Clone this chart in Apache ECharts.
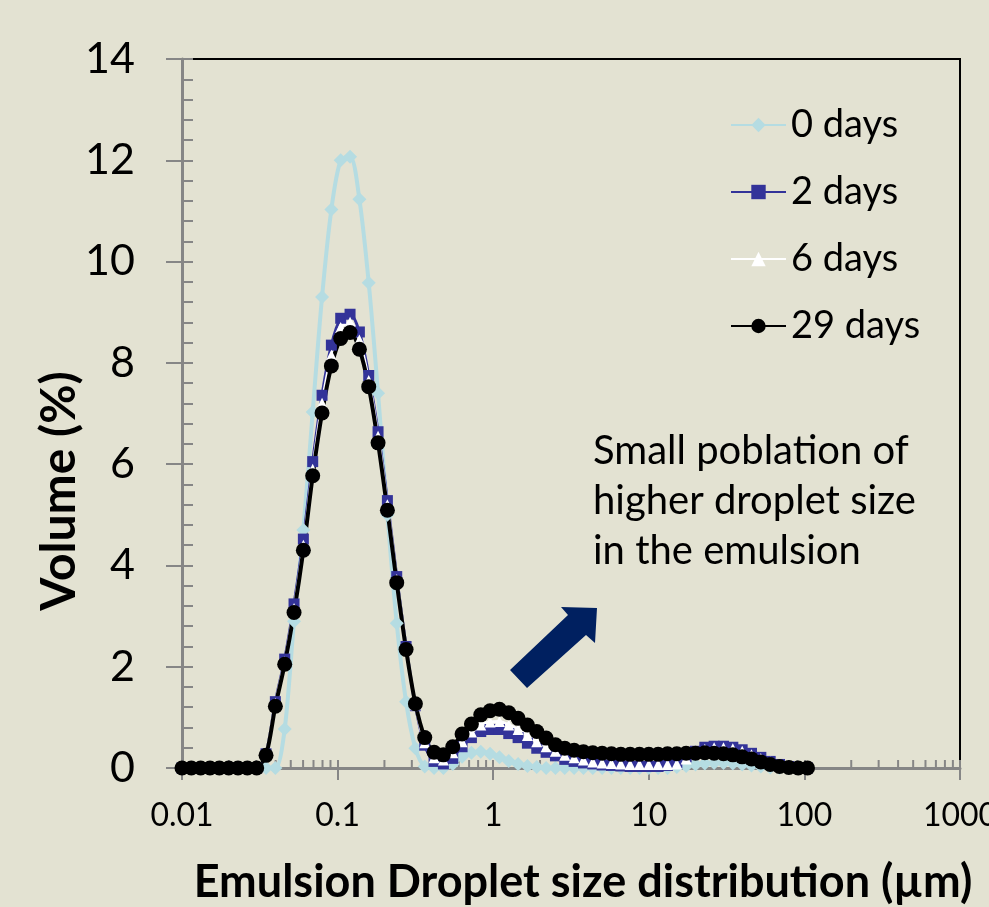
<!DOCTYPE html>
<html>
<head>
<meta charset="utf-8">
<script src="https://cdn.jsdelivr.net/npm/echarts@6/dist/echarts.min.js"></script>
<style>
html, body { margin: 0; padding: 0; background: #e3e2d2; }
#dsd { width: 989px; height: 907px; }
</style>
</head>
<body>
<div id="dsd"></div>
<script>
// droplet size classes (µm)
var sizes = [0.01, 0.011482, 0.013183, 0.015136, 0.017378, 0.019953, 0.022909, 0.026303, 0.0302, 0.034674,
    0.039811, 0.045709, 0.052481, 0.060256, 0.069183, 0.079433, 0.091201, 0.10471, 0.12023, 0.13804,
    0.15849, 0.18197, 0.20893, 0.23988, 0.27542, 0.31623, 0.36308, 0.41687, 0.47863, 0.54954,
    0.63096, 0.72444, 0.83176, 0.95499, 1.0965, 1.2589, 1.4454, 1.6596, 1.9055, 2.1878,
    2.5119, 2.884, 3.3113, 3.8019, 4.3652, 5.0119, 5.7544, 6.6069, 7.5858, 8.7096,
    10, 11.482, 13.183, 15.136, 17.378, 19.953, 22.909, 26.303, 30.2, 34.674,
    39.811, 45.709, 52.481, 60.256, 69.183, 79.433, 91.201, 104.71];

var day0 = [0, 0, 0, 0, 0, 0, 0, 0, 0, 0,
    0, 0.77, 2.9, 4.7, 7.03, 9.3, 11.03, 12.0, 12.07, 11.23,
    9.58, 7.4, 5.0, 2.86, 1.31, 0.39, 0.03, 0, 0, 0.08,
    0.22, 0.3, 0.32, 0.28, 0.21, 0.14, 0.08, 0.04, 0.02, 0,
    0, 0, 0, 0, 0, 0, 0, 0, 0, 0,
    0, 0, 0, 0.02, 0.04, 0.07, 0.09, 0.1, 0.1, 0.09,
    0.07, 0.05, 0.03, 0.01, 0, 0, 0, 0];

var day2 = [0, 0, 0, 0, 0, 0, 0, 0, 0, 0.28,
    1.31, 2.15, 3.24, 4.52, 6.05, 7.36, 8.35, 8.88, 8.96, 8.61,
    7.75, 6.64, 5.28, 3.78, 2.4, 1.23, 0.45, 0.13, 0.08, 0.19,
    0.42, 0.6, 0.72, 0.76, 0.76, 0.68, 0.6, 0.49, 0.39, 0.31,
    0.24, 0.17, 0.13, 0.1, 0.08, 0.06, 0.05, 0.04, 0.03, 0.03,
    0.03, 0.03, 0.05, 0.1, 0.22, 0.33, 0.41, 0.43, 0.43, 0.41,
    0.36, 0.29, 0.21, 0.13, 0.07, 0.03, 0.01, 0];

var day6 = [0, 0, 0, 0, 0, 0, 0, 0, 0, 0.27,
    1.28, 2.1, 3.15, 4.4, 5.9, 7.2, 8.15, 8.7, 8.8, 8.45,
    7.65, 6.55, 5.2, 3.72, 2.37, 1.25, 0.5, 0.2, 0.16, 0.3,
    0.52, 0.71, 0.85, 0.91, 0.92, 0.85, 0.76, 0.64, 0.52, 0.42,
    0.33, 0.25, 0.2, 0.16, 0.12, 0.1, 0.09, 0.08, 0.07, 0.07,
    0.07, 0.07, 0.07, 0.08, 0.18, 0.3, 0.37, 0.4, 0.4, 0.38,
    0.33, 0.26, 0.19, 0.12, 0.06, 0.03, 0.01, 0];

var day29 = [0, 0, 0, 0, 0, 0, 0, 0, 0, 0.25,
    1.22, 2.05, 3.07, 4.3, 5.77, 7.01, 7.94, 8.48, 8.6, 8.27,
    7.53, 6.42, 5.09, 3.66, 2.34, 1.27, 0.6, 0.31, 0.26, 0.42,
    0.67, 0.87, 1.05, 1.13, 1.16, 1.09, 0.98, 0.85, 0.72, 0.59,
    0.46, 0.39, 0.35, 0.32, 0.3, 0.29, 0.28, 0.27, 0.27, 0.27,
    0.27, 0.27, 0.28, 0.28, 0.29, 0.29, 0.3, 0.29, 0.28, 0.26,
    0.22, 0.18, 0.12, 0.07, 0.03, 0.01, 0, 0];

var seriesNames = ['0 days', '2 days', '6 days', '29 days'];
var xTickLabels = ['0.01', '0.1', '1', '10', '100', '1000'];
var yTicks = [0, 2, 4, 6, 8, 10, 12, 14];
var decades = [0.01, 0.1, 1, 10, 100];
var minorMultiples = [2, 3, 4, 5, 6, 7, 8, 9];

function pairs(ys) {
    return ys.map(function (y, i) { return [sizes[i], y]; });
}

var minorTicks = [];
decades.forEach(function (d) {
    minorMultiples.forEach(function (m) { minorTicks.push([m * d, 0]); });
});

var axisGrey = '#868686';
var font = 'Lato';

var dsd = {
    backgroundColor: '#e3e2d2',
    animation: false,
    grid: {
        left: 182,
        right: 29,
        top: 59,
        bottom: 139,
        outerBoundsMode: 'none',
        containLabel: false,
        show: true,
        borderColor: '#000',
        borderWidth: 2
    },
    legend: {
        data: seriesNames,
        orient: 'vertical',
        left: 725,
        top: 101,
        itemWidth: 55,
        itemHeight: 18,
        itemGap: 29,
        textStyle: { fontFamily: font, fontSize: 38, color: '#000' }
    },
    xAxis: [
        {
            type: 'log',
            logBase: 10,
            min: 0.01,
            max: 1000,
            position: 'bottom',
            axisLine: { onZero: false, lineStyle: { color: axisGrey, width: 3 } },
            axisTick: { inside: false, length: 12, lineStyle: { color: axisGrey, width: 2 } },
            axisLabel: {
                fontFamily: font, fontSize: 32, color: '#000', margin: 32,
                showMinLabel: true, showMaxLabel: true,
                formatter: function (v, i) { return xTickLabels[i]; }
            },
            splitLine: { show: false }
        },
        {
            type: 'log',
            logBase: 10,
            min: 0.01,
            max: 1000,
            position: 'bottom',
            axisLine: { show: false, onZero: false },
            axisTick: { inside: true, length: 8, lineStyle: { color: axisGrey, width: 2 } },
            axisLabel: { show: false },
            splitLine: { show: false }
        }
    ],
    yAxis: [
        {
            type: 'value',
            min: 0,
            max: 14,
            interval: 2,
            position: 'left',
            axisLine: { show: true, lineStyle: { color: axisGrey, width: 3 } },
            axisTick: { show: true, inside: false, length: 16, lineStyle: { color: axisGrey, width: 2 } },
            axisLabel: {
                fontFamily: font, fontSize: 43, color: '#000', margin: 47,
                formatter: function (v) { return yTicks.indexOf(v) >= 0 ? String(v) : ''; }
            },
            splitLine: { show: false }
        },
        {
            type: 'value',
            min: 0,
            max: 14,
            interval: 2,
            position: 'left',
            axisLine: { show: false },
            axisTick: { show: true, inside: true, length: 11, lineStyle: { color: axisGrey, width: 2 } },
            minorTick: { show: true, splitNumber: 5, length: 11, lineStyle: { color: axisGrey, width: 2 } },
            axisLabel: { show: false },
            splitLine: { show: false }
        }
    ],
    graphic: [
        // axis titles
        {
            type: 'text',
            x: 60,
            y: 491,
            rotation: Math.PI / 2,
            style: {
                text: 'Volume (%)',
                font: 'bold 48px Lato',
                fill: '#000',
                align: 'center',
                verticalAlign: 'middle'
            }
        },
        {
            type: 'text',
            x: 583,
            y: 882,
            style: {
                text: 'Emulsion Droplet size distribution (µm)',
                font: 'bold 45px Lato',
                fill: '#000',
                align: 'center',
                verticalAlign: 'middle'
            }
        },
        // annotation
        {
            type: 'text',
            left: 593,
            top: 426,
            style: {
                text: 'Small poblation of\nhigher droplet size\nin the emulsion',
                font: '40px Lato',
                lineHeight: 50,
                fill: '#000'
            }
        },
        {
            type: 'polygon',
            shape: {
                points: [[510, 670], [568, 615], [561, 607], [597, 608], [595, 643], [586, 635], [527, 688]]
            },
            style: { fill: '#002060' }
        }
    ],
    series: [
        {
            name: 'minor',
            type: 'custom',
            silent: true,
            z: 1,
            clip: false,
            data: minorTicks,
            renderItem: function (params, api) {
                var p = api.coord([api.value(0), 0]);
                return {
                    type: 'line',
                    shape: { x1: p[0], y1: p[1], x2: p[0], y2: p[1] - 8 },
                    style: { stroke: axisGrey, lineWidth: 2 }
                };
            }
        },
        {
            name: '0 days',
            type: 'line',
            smooth: 0.3,
            symbol: 'diamond',
            symbolSize: 14,
            showAllSymbol: true,
            color: '#b5dce2',
            lineStyle: { width: 4 },
            data: pairs(day0)
        },
        {
            name: '2 days',
            type: 'line',
            smooth: 0.3,
            symbol: 'rect',
            symbolSize: 11,
            showAllSymbol: true,
            color: '#333399',
            lineStyle: { width: 3 },
            data: pairs(day2)
        },
        {
            name: '6 days',
            type: 'line',
            smooth: 0.3,
            symbol: 'triangle',
            symbolSize: 11,
            showAllSymbol: true,
            color: '#ffffff',
            lineStyle: { width: 3 },
            data: pairs(day6)
        },
        {
            name: '29 days',
            type: 'line',
            smooth: 0.3,
            symbol: 'circle',
            symbolSize: 15,
            showAllSymbol: true,
            color: '#000000',
            lineStyle: { width: 4 },
            data: pairs(day29)
        }
    ]
};

var chart_dsd = echarts.init(document.getElementById('dsd'));
chart_dsd.setOption(dsd);
</script>
</body>
</html>
